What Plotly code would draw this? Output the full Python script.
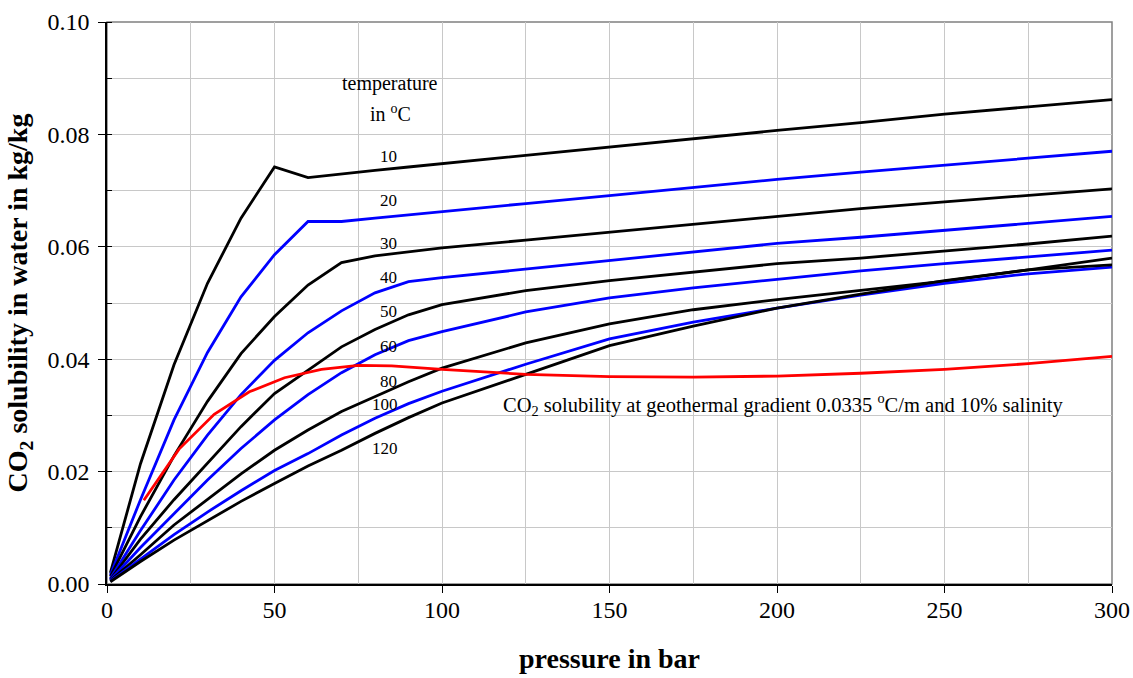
import plotly.graph_objects as go

pressure = [1, 10, 20, 30, 40, 50, 60, 70, 80, 90, 100, 125, 150, 175, 200, 225, 250, 275, 300]

temps = ["10", "20", "30", "40", "50", "60", "80", "100", "120"]
sol_10 = [0.0020, 0.0214, 0.0390, 0.0535, 0.0651, 0.0742, 0.0723, 0.0730, 0.0736, 0.0742, 0.0748, 0.0763, 0.0777, 0.0792, 0.0807, 0.0821, 0.0836, 0.0849, 0.0862]
sol_20 = [0.0016, 0.0150, 0.0292, 0.0412, 0.0511, 0.0586, 0.0645, 0.0645, 0.0651, 0.0657, 0.0662, 0.0677, 0.0691, 0.0706, 0.0720, 0.0733, 0.0745, 0.0758, 0.0770]
sol_30 = [0.0013, 0.0120, 0.0228, 0.0325, 0.0410, 0.0476, 0.0532, 0.0572, 0.0584, 0.0591, 0.0598, 0.0612, 0.0626, 0.0640, 0.0655, 0.0668, 0.0680, 0.0692, 0.0703]
sol_40 = [0.0010, 0.0095, 0.0185, 0.0265, 0.0337, 0.0398, 0.0447, 0.0486, 0.0518, 0.0538, 0.0545, 0.0560, 0.0575, 0.0591, 0.0606, 0.0617, 0.0629, 0.0642, 0.0654]
sol_50 = [0.0008, 0.0080, 0.0150, 0.0215, 0.0280, 0.0339, 0.0381, 0.0422, 0.0453, 0.0479, 0.0497, 0.0522, 0.0540, 0.0555, 0.0570, 0.0580, 0.0592, 0.0605, 0.0619]
sol_60 = [0.0007, 0.0065, 0.0125, 0.0185, 0.0241, 0.0292, 0.0337, 0.0376, 0.0408, 0.0433, 0.0449, 0.0484, 0.0509, 0.0527, 0.0542, 0.0557, 0.0570, 0.0582, 0.0594]
sol_80 = [0.0006, 0.0052, 0.0105, 0.0150, 0.0196, 0.0238, 0.0274, 0.0307, 0.0333, 0.0360, 0.0384, 0.0429, 0.0463, 0.0488, 0.0506, 0.0522, 0.0539, 0.0559, 0.0580]
sol_100 = [0.0005, 0.0045, 0.0088, 0.0128, 0.0166, 0.0202, 0.0232, 0.0265, 0.0295, 0.0321, 0.0343, 0.0391, 0.0436, 0.0466, 0.0491, 0.0514, 0.0535, 0.0552, 0.0564]
sol_120 = [0.0004, 0.0040, 0.0078, 0.0113, 0.0147, 0.0179, 0.0210, 0.0238, 0.0268, 0.0296, 0.0322, 0.0373, 0.0424, 0.0459, 0.0491, 0.0516, 0.0540, 0.0559, 0.0568]

gradient_pressure = [11, 21.5, 32, 42.5, 53, 64, 75, 85, 100, 125, 150, 175, 200, 225, 250, 275, 300]
gradient_sol = [0.0149, 0.0240, 0.0302, 0.0342, 0.0367, 0.0382, 0.0389, 0.0388, 0.0382, 0.0373, 0.0369, 0.0368, 0.0370, 0.0375, 0.0382, 0.0392, 0.0405]

label_x = [84, 84, 84, 84, 84, 84, 84, 83, 83]
label_y = [0.0760, 0.0683, 0.0605, 0.0545, 0.0484, 0.0422, 0.0361, 0.0319, 0.0242]

series = [sol_10, sol_20, sol_30, sol_40, sol_50, sol_60, sol_80, sol_100, sol_120]
colors = ["#000000", "#0000FF", "#000000", "#0000FF", "#000000", "#0000FF", "#000000", "#0000FF", "#000000"]

FONT = "Liberation Serif, Times New Roman, serif"

fig = go.Figure()
for t, s, c in zip(temps, series, colors):
    fig.add_trace(go.Scatter(x=pressure, y=s, mode="lines", name=t + " °C",
                             line=dict(color=c, width=2.8), showlegend=False))
fig.add_trace(go.Scatter(x=gradient_pressure, y=gradient_sol, mode="lines",
                         line=dict(color="#FF0000", width=2.8), showlegend=False))

for t, lx, ly in zip(temps, label_x, label_y):
    fig.add_annotation(x=lx, y=ly, text=t, showarrow=False,
                       font=dict(family=FONT, size=17, color="black"))

fig.add_annotation(x=84.5, y=0.0891, text="temperature", showarrow=False,
                   font=dict(family=FONT, size=20, color="black"))
fig.add_annotation(x=84.5, y=0.0838, text="in <sup>o</sup>C", showarrow=False,
                   font=dict(family=FONT, size=20, color="black"))
fig.add_annotation(x=117.5, y=0.0319, xanchor="left",
                   text="CO<sub>2</sub> solubility at geothermal gradient 0.0335 <sup>o</sup>C/m and 10% salinity",
                   showarrow=False, font=dict(family=FONT, size=20.5, color="black"))

fig.add_shape(type="rect", xref="paper", yref="paper", x0=0, y0=0, x1=1, y1=1,
              line=dict(color="#808080", width=1.5), layer="below")

fig.update_layout(
    width=1133, height=678,
    margin=dict(l=107, r=21, t=22, b=94),
    paper_bgcolor="white", plot_bgcolor="white",
    font=dict(family=FONT, size=24, color="black"),
    xaxis=dict(range=[0, 300], dtick=50, tick0=0, showgrid=True, gridcolor="#c8c8c8", gridwidth=1,
               minor=dict(dtick=25, showgrid=True, gridcolor="#c8c8c8", gridwidth=1),
               showline=True, linecolor="black", linewidth=1.5,
               ticks="outside", ticklen=7, tickcolor="black", ticklabelstandoff=-4,
               zeroline=False, automargin=False,
               title=dict(text="<b>pressure in bar</b>", font=dict(family=FONT, size=28), standoff=27)),
    yaxis=dict(range=[0, 0.10], dtick=0.02, tick0=0, tickformat=".2f", showgrid=True,
               gridcolor="#c8c8c8", gridwidth=1,
               minor=dict(dtick=0.01, showgrid=True, gridcolor="#c8c8c8", gridwidth=1,
                          ticks="inside", ticklen=5, tickcolor="black"),
               showline=True, linecolor="black", linewidth=1.5,
               ticks="outside", ticklen=7, tickcolor="black", ticklabelstandoff=4,
               zeroline=False, automargin=False,
               title=dict(text="<b>CO<sub>2</sub> solubility in water in kg/kg</b>",
                          font=dict(family=FONT, size=28), standoff=12)),
)

fig.write_html("out.html", config={"displayModeBar": False},
               post_script="document.body.style.margin='0px';")
